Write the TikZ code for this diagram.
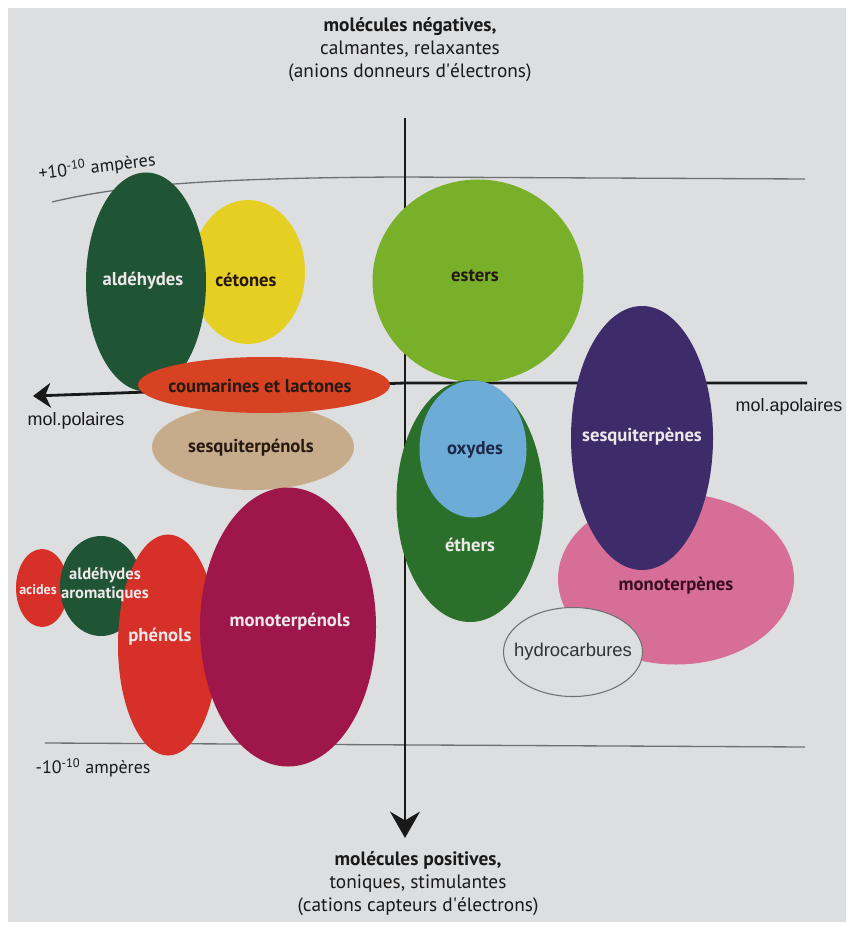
\documentclass[tikz,border=0pt]{standalone}
\usepackage{fontspec}
\setmainfont{PT Sans}
\newfontfamily\arialfont{Liberation Sans}
\usetikzlibrary{shapes.geometric}
\usetikzlibrary{arrows.meta}

\definecolor{pagebg}{RGB}{221,222,224}
\definecolor{axisblack}{RGB}{25,25,25}
\definecolor{ampgray}{RGB}{112,112,114}
\definecolor{darkgreen}{RGB}{31,84,52}
\definecolor{lemon}{RGB}{229,207,35}
\definecolor{grassgreen}{RGB}{121,176,42}
\definecolor{brickred}{RGB}{214,66,34}
\definecolor{tan}{RGB}{198,172,138}
\definecolor{ethgreen}{RGB}{42,112,42}
\definecolor{skyblue}{RGB}{110,172,216}
\definecolor{indigo}{RGB}{61,43,106}
\definecolor{rosepink}{RGB}{214,110,152}
\definecolor{tomato}{RGB}{214,48,40}
\definecolor{crimson}{RGB}{158,22,74}
\definecolor{lbldark}{RGB}{40,24,18}
\definecolor{lblwhite}{RGB}{238,232,234}

\begin{document}
\begin{tikzpicture}[
    x=0.2mm,y=-0.2mm,
    blob/.style={ellipse,fill=#1,inner sep=0pt},
    lbl/.style={font=\bfseries\fontsize{10.6}{12}\selectfont,text=lbldark},
    lblw/.style={lbl,text=lblwhite},
    axis/.style={line width=1.6pt,draw=axisblack},
    amp/.style={line width=0.75pt,draw=ampgray},
    title/.style={align=center,text=axisblack,font=\fontsize{11}{13}\selectfont}
    ]
    \useasboundingbox (0,0) rectangle (850,927);
    \fill[white] (0,0) rectangle (850,927);
    \fill[pagebg] (8,8) rectangle (846,922);

    % ampere levels
    \coordinate (ptop-l) at (52,202);
    \coordinate (ptop-m) at (400,177);
    \coordinate (ptop-r) at (805,179);
    \draw[amp] (ptop-l) .. controls (120,186) and (200,178) .. (ptop-m) -- (ptop-r);
    \coordinate (pbot-l) at (45,743);
    \coordinate (pbot-r) at (805,747);
    \draw[amp] (pbot-l) -- (pbot-r);
    \node[rotate=7,text=axisblack,font=\fontsize{10.2}{12}\selectfont] (plus) at (97,167)
      {+10\textsuperscript{-10} ampères};
    \node[text=axisblack,font=\fontsize{10.2}{12}\selectfont] (minus) at (93,768)
      {-10\textsuperscript{-10} ampères};

    % axes
    \coordinate (vtop) at (405,118);
    \coordinate (vbot) at (405,838);
    \draw[axis,-{Stealth[length=15pt,width=17pt,inset=5pt]}] (vtop) -- (vbot);
    \coordinate (hright) at (807,383);
    \coordinate (hmid) at (405,383);
    \coordinate (hleft) at (33,396);
    \draw[axis,-{Stealth[length=10pt,width=14pt,inset=3pt]}] (hright) -- (hmid) -- (hleft);
    \node[font=\arialfont\fontsize{10.2}{12}\selectfont,text=axisblack] (pol) at (76,421) {mol.polaires};
    \node[font=\arialfont\fontsize{10.2}{12}\selectfont,text=axisblack] (apol) at (789,407) {mol.apolaires};

    % titles
    \node[title] (neg) at (410,50)
      {\textbf{molécules négatives,}\\calmantes, relaxantes\\(anions donneurs d\textquotesingle électrons)};
    \node[title] (pos) at (418,884)
      {\textbf{molécules positives,}\\toniques, stimulantes\\(cations capteurs d\textquotesingle électrons)};

    % upper left
    \node[blob=lemon,minimum width=22.8mm,minimum height=28.8mm] (ceto) at (248,272) {};
    \node[lbl] at (246,280) {cétones};
    \node[blob=darkgreen,minimum width=24mm,minimum height=43.8mm] (ald) at (146,282) {};
    \node[lblw] at (143,281) {aldéhydes};
    \node[blob=tan,minimum width=40.4mm,minimum height=17.2mm] (sesqol) at (253,447) {};
    \node[lbl] at (251,448) {sesquiterpénols};
    \node[blob=brickred,minimum width=50.4mm,minimum height=11.2mm] (coum) at (264,385) {};
    \node[lbl] at (260,386) {coumarines et lactones};

    % upper right
    \node[blob=grassgreen,minimum width=42.2mm,minimum height=40.6mm] (est) at (478,281) {};
    \node[lbl] at (475,276) {esters};

    % centre
    \node[blob=ethgreen,minimum width=29.4mm,minimum height=48.4mm] (eth) at (470,501) {};
    \node[lblw] at (470,545) {éthers};
    \node[blob=skyblue,minimum width=21.4mm,minimum height=27.4mm] (oxy) at (473,449) {};
    \node[lbl,text={rgb,255:red,28;green,40;blue,72}] at (475,450) {oxydes};

    % right
    \node[blob=rosepink,minimum width=47.2mm,minimum height=34.2mm] (mono) at (676,579) {};
    \node[lbl,text={rgb,255:red,58;green,14;blue,34}] at (676,586) {monoterpènes};
    \node[blob=indigo,minimum width=28.4mm,minimum height=52.8mm] (sesq) at (642,438) {};
    \node[lblw] at (642,437) {sesquiterpènes};
    \node[blob=pagebg,draw=ampgray,line width=0.6pt,minimum width=27.8mm,minimum height=17.8mm] (hydro) at (573,652) {};
    \node[font=\arialfont\fontsize{10.5}{12}\selectfont,text={rgb,255:red,50;green,50;blue,50}] at (573,652) {hydrocarbures};

    % lower left
    \node[blob=tomato,minimum width=10.4mm,minimum height=15.6mm] (acid) at (42,588) {};
    \node[blob=darkgreen,minimum width=16.4mm,minimum height=20mm] (aldar) at (101,586) {};
    \node[blob=tomato,minimum width=20mm,minimum height=44.2mm] (phen) at (168,645) {};
    \node[lblw,font=\bfseries\fontsize{8}{10}\selectfont] at (38,590) {acides};
    \node[lblw,align=center,font=\bfseries\fontsize{9.4}{11}\selectfont] at (105,585) {aldéhydes\\aromatiques};
    \node[lblw] at (160,637) {phénols};
    \node[blob=crimson,minimum width=35.2mm,minimum height=55.8mm] (monool) at (288,627) {};
    \node[lblw] at (290,622) {monoterpénols};
\end{tikzpicture}
\end{document}
